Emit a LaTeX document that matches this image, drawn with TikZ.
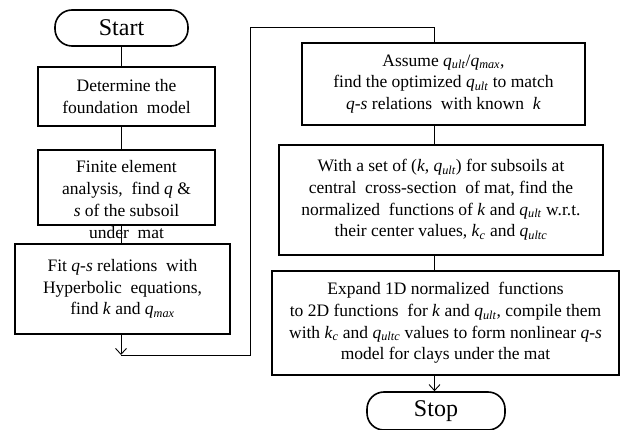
\documentclass[tikz,border=0pt]{standalone}
\usepackage{fontspec}
\setmainfont{Liberation Serif}
\usetikzlibrary{arrows.meta}
\newcommand\qsb[1]{\textit{q}\textsubscript{\textit{#1}}}
\newcommand\ksb[1]{\textit{k}\textsubscript{\textit{#1}}}
\tikzset{
  procbox/.style={draw, line width=1.8pt, inner sep=0pt, align=center,
    font=\fontsize{17.5}{21.7}\selectfont},
  termbox/.style={draw, line width=1.6pt, rounded corners=17pt, inner sep=0pt,
    font=\fontsize{24}{28}\selectfont},
  conn/.style={line width=0.9pt},
  arr/.style={conn, -{Straight Barb[length=6pt,width=11pt,line width=0.9pt]}},
  plaintext/.style={align=center, inner sep=0pt, font=\fontsize{17.5}{21.7}\selectfont}
}
\begin{document}
\begin{tikzpicture}[x=1pt,y=-1pt]
\useasboundingbox (0,0) rectangle (621,430);
% left column
\node[termbox, minimum width=133pt, minimum height=36pt] (start) at (121.5,28) {Start};
\node[procbox, minimum width=177pt, minimum height=59pt] (b1) at (126.5,96.5)
  {Determine the\\foundation\ \ model};
\node[procbox, minimum width=177pt, minimum height=75pt] (b2) at (126.5,187.5) {};
\node[plaintext] (t2) at (126.5,199.5)
  {Finite element\\analysis,\ \ find \textit{q} \&\\\textit{s} of the subsoil\\under\ \ mat};
\node[procbox, minimum width=215pt, minimum height=90pt] (b3) at (122.5,289)
  {Fit \textit{q}-\textit{s} relations\ \ with\\Hyperbolic\ \ equations,\\find \textit{k} and \qsb{max}};
\coordinate (c1) at (121,355);
\coordinate (c2) at (250,355);
\coordinate (c3) at (250,27);
\coordinate (c4) at (434.5,27);
% right column
\node[procbox, minimum width=283pt, minimum height=82pt] (b4) at (443.5,84)
  {Assume \qsb{ult}/\qsb{max},\\find the optimized \qsb{ult} to match\\\textit{q}-\textit{s} relations\ \ with\ known\ \ \textit{k}};
\node[procbox, minimum width=324pt, minimum height=110pt] (b5) at (441,200)
  {With a set of (\textit{k}, \qsb{ult}) for subsoils at\\central\ \ cross-section\ \ of mat, find the\\normalized\ \ functions of \textit{k} and \qsb{ult} w.r.t.\\their center values, \ksb{c} and \qsb{ultc}};
\node[procbox, minimum width=347pt, minimum height=104pt] (b6) at (445.5,323)
  {Expand\ 1D\ normalized\ \ functions\\to 2D\ functions\ \ for \textit{k} and \qsb{ult}, compile them\\with \ksb{c} and \qsb{ultc} values to form nonlinear \textit{q}-\textit{s}\\model\ for clays\ under the mat};
\node[termbox, minimum width=138pt, minimum height=38pt] (stop) at (436,411) {Stop};
% connectors
\draw[conn] (start.south) -- (start.south |- b1.north);
\draw[conn] (b1.south -| start.south) -- (start.south |- b2.north);
\draw[conn] (b2.south -| c1) -- (c1 |- b3.north);
\draw[arr] (b3.south -| c1) -- (c1);
\draw[conn] (c1) -- (c2) -- (c3) -- (c4) -- (c4 |- b4.north);
\draw[conn] (b4.south -| c4) -- (c4 |- b5.north);
\draw[conn] (b5.south -| c4) -- (c4 |- b6.north);
\draw[arr] (b6.south -| c4) -- (c4 |- stop.north);
\end{tikzpicture}
\end{document}
